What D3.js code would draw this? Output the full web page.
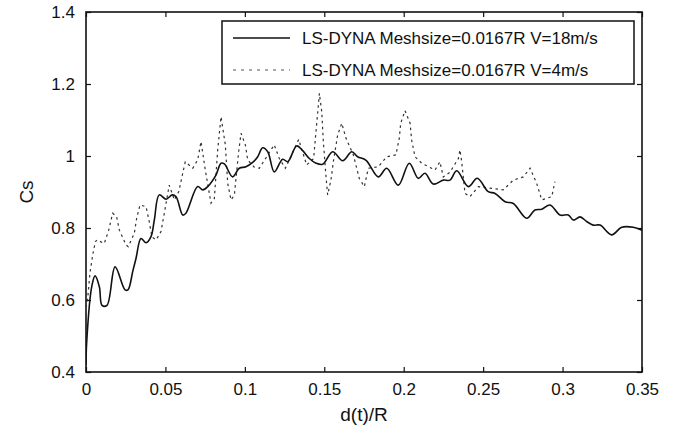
<!DOCTYPE html>
<html>
<head>
<meta charset="utf-8">
<script src="https://cdn.jsdelivr.net/npm/d3@7"></script>
<style>
body { margin: 0; background: #fff; }
text { font-family: "Liberation Sans", Arial, sans-serif; fill: #111; }
</style>
</head>
<body>
<svg id="chart" width="675" height="428"></svg>
<script>
// V=18m/s (trait plein)
var d18 = [0, 0.0004, 0.0036, 0.0057, 0.0084, 0.0101, 0.0132, 0.0183, 0.0246, 0.0264, 0.0296, 0.0315, 0.0346, 0.0378, 0.0409, 0.0430, 0.0461, 0.0504, 0.0542, 0.0567, 0.0609, 0.0629, 0.0703, 0.0735, 0.0766, 0.0818, 0.0850, 0.0871, 0.0923, 0.0965, 0.1007, 0.1049, 0.1081, 0.1112, 0.1144, 0.1185, 0.1238, 0.1270, 0.1326, 0.1364, 0.1406, 0.1448, 0.1490, 0.1553, 0.1616, 0.1673, 0.1710, 0.1763, 0.1840, 0.1893, 0.1966, 0.2035, 0.2092, 0.2134, 0.2186, 0.2249, 0.2291, 0.2334, 0.2407, 0.2463, 0.2532, 0.2575, 0.2638, 0.2690, 0.2774, 0.2826, 0.2869, 0.2921, 0.2984, 0.3036, 0.3068, 0.3110, 0.3152, 0.3193, 0.3236, 0.3309, 0.3372, 0.3445, 0.35];
var cs18 = [0.42, 0.48, 0.637, 0.667, 0.637, 0.585, 0.585, 0.692, 0.628, 0.628, 0.683, 0.716, 0.771, 0.759, 0.776, 0.822, 0.892, 0.880, 0.892, 0.887, 0.836, 0.841, 0.915, 0.906, 0.915, 0.947, 0.980, 0.978, 0.942, 0.966, 0.970, 0.982, 0.998, 1.023, 1.012, 0.956, 0.991, 0.984, 1.028, 1.015, 0.993, 0.980, 0.977, 1.012, 0.987, 1.012, 0.998, 0.988, 0.942, 0.966, 0.919, 0.980, 0.938, 0.952, 0.922, 0.933, 0.933, 0.959, 0.915, 0.938, 0.901, 0.896, 0.873, 0.868, 0.827, 0.850, 0.852, 0.864, 0.836, 0.836, 0.822, 0.831, 0.818, 0.808, 0.808, 0.781, 0.802, 0.802, 0.794];

// V=4m/s (pointillés)
var d4 = [0, 0.0008, 0.0025, 0.0042, 0.0059, 0.0069, 0.0115, 0.0143, 0.0168, 0.0193, 0.0210, 0.0252, 0.0266, 0.0304, 0.0319, 0.0340, 0.0378, 0.0398, 0.0415, 0.0441, 0.0472, 0.0493, 0.0524, 0.0556, 0.0584, 0.0604, 0.0625, 0.0672, 0.0703, 0.0724, 0.0751, 0.0787, 0.0808, 0.0829, 0.0850, 0.0877, 0.0892, 0.0913, 0.0934, 0.0961, 0.0976, 0.1003, 0.1018, 0.1059, 0.1091, 0.1185, 0.1217, 0.1255, 0.1339, 0.1389, 0.1433, 0.1443, 0.1459, 0.1469, 0.1484, 0.1494, 0.1511, 0.1521, 0.1542, 0.1557, 0.1584, 0.1610, 0.1637, 0.1683, 0.1720, 0.1752, 0.1777, 0.1840, 0.1893, 0.1951, 0.1972, 0.1981, 0.2008, 0.2040, 0.2050, 0.2071, 0.2113, 0.2197, 0.2228, 0.2249, 0.2291, 0.2344, 0.2354, 0.2365, 0.2386, 0.2417, 0.2470, 0.2554, 0.2627, 0.2690, 0.2753, 0.2795, 0.2837, 0.2869, 0.2932, 0.2952];
var cs4 = [0.58, 0.592, 0.675, 0.725, 0.762, 0.767, 0.757, 0.794, 0.841, 0.831, 0.794, 0.753, 0.748, 0.785, 0.827, 0.864, 0.859, 0.818, 0.775, 0.767, 0.790, 0.841, 0.919, 0.878, 0.901, 0.942, 0.984, 0.966, 0.989, 1.040, 0.961, 0.869, 0.882, 1.017, 1.109, 1.031, 0.924, 0.878, 0.892, 1.012, 1.063, 1.031, 0.989, 0.969, 0.966, 1.031, 0.993, 0.966, 1.046, 0.975, 0.993, 1.044, 1.123, 1.174, 1.123, 1.040, 0.942, 0.892, 0.933, 0.984, 1.058, 1.091, 1.049, 1.003, 0.938, 0.915, 0.966, 0.970, 0.998, 1.003, 1.049, 1.091, 1.126, 1.091, 1.044, 0.998, 0.980, 0.961, 0.984, 0.942, 0.955, 0.993, 1.017, 0.984, 0.896, 0.887, 0.915, 0.910, 0.906, 0.933, 0.942, 0.966, 0.924, 0.878, 0.887, 0.929];

var xTicks = [0, 0.05, 0.1, 0.15, 0.2, 0.25, 0.3, 0.35];
var yTicks = [0.4, 0.6, 0.8, 1, 1.2, 1.4];
var legendLabels = ["LS-DYNA Meshsize=0.0167R V=18m/s", "LS-DYNA Meshsize=0.0167R V=4m/s"];

// cadre du graphe
var pL = 86, pR = 642, pT = 12, pB = 372;

var svg = d3.select("#chart");

var x = d3.scaleLinear().domain([0, 0.35]).range([pL, pR]);
var y = d3.scaleLinear().domain([0.4, 1.4]).range([pB, pT]);

var fmt = function (d) { return d3.format("")(d); };

// axes, ticks vers l'intérieur sur les 4 côtés
function styleAxis(g) {
	g.select(".domain").remove();
	g.selectAll(".tick line").attr("stroke", "#111").attr("stroke-width", 1.2);
	g.selectAll(".tick text").attr("font-size", 17).attr("fill", "#111")
		.attr("font-family", "Liberation Sans, Arial, sans-serif");
}

svg.append("g").attr("transform", "translate(0," + pB + ")")
	.call(d3.axisBottom(x).tickValues(xTicks).tickFormat(fmt).tickSizeInner(-5).tickSizeOuter(0).tickPadding(11))
	.call(styleAxis);
svg.append("g").attr("transform", "translate(0," + pT + ")")
	.call(d3.axisTop(x).tickValues(xTicks).tickFormat("").tickSizeInner(-5).tickSizeOuter(0))
	.call(styleAxis);
svg.append("g").attr("transform", "translate(" + pL + ",0)")
	.call(d3.axisLeft(y).tickValues(yTicks).tickFormat(fmt).tickSizeInner(-5).tickSizeOuter(0).tickPadding(11))
	.call(styleAxis);
svg.append("g").attr("transform", "translate(" + pR + ",0)")
	.call(d3.axisRight(y).tickValues(yTicks).tickFormat("").tickSizeInner(-5).tickSizeOuter(0))
	.call(styleAxis);

svg.append("rect")
	.attr("x", pL).attr("y", pT)
	.attr("width", pR - pL).attr("height", pB - pT)
	.attr("fill", "none").attr("stroke", "#111").attr("stroke-width", 1.6);

// courbes
var line = d3.line()
	.x(function (d) { return x(d[0]); })
	.y(function (d) { return y(d[1]); });
var smooth = d3.line()
	.curve(d3.curveCatmullRom.alpha(0.5))
	.x(function (d) { return x(d[0]); })
	.y(function (d) { return y(d[1]); });

svg.append("clipPath").attr("id", "clip")
	.append("rect").attr("x", pL).attr("y", pT).attr("width", pR - pL).attr("height", pB - pT);

svg.append("path")
	.datum(d3.zip(d4, cs4))
	.attr("clip-path", "url(#clip)")
	.attr("d", line)
	.attr("fill", "none")
	.attr("stroke", "#333")
	.attr("stroke-width", 1.2)
	.attr("stroke-dasharray", "2.5,3.5");

svg.append("path")
	.datum(d3.zip(d18, cs18))
	.attr("clip-path", "url(#clip)")
	.attr("d", smooth)
	.attr("fill", "none")
	.attr("stroke", "#111")
	.attr("stroke-width", 1.6)
	.attr("stroke-linejoin", "round");

// légende
var lg = svg.append("g");
lg.append("rect")
	.attr("x", 222).attr("y", 21).attr("width", 412).attr("height", 63)
	.attr("fill", "#fff").attr("stroke", "#111").attr("stroke-width", 1.5);

legendLabels.forEach(function (lab, i) {
	var yy = 38 + i * 32;
	lg.append("line")
		.attr("x1", 233).attr("x2", 290).attr("y1", yy).attr("y2", yy)
		.attr("stroke", i == 0 ? "#111" : "#555")
		.attr("stroke-width", i == 0 ? 1.6 : 1.1)
		.attr("stroke-dasharray", i == 0 ? null : "3,5");
	lg.append("text")
		.attr("x", 302).attr("y", yy + 6)
		.attr("font-size", 17)
		.text(lab);
});

// titres des axes
svg.append("text")
	.attr("x", (pL + pR) / 2).attr("y", 421)
	.attr("text-anchor", "middle").attr("font-size", 19)
	.text("d(t)/R");

svg.append("text")
	.attr("transform", "translate(33," + (pT + pB) / 2 + ") rotate(-90)")
	.attr("text-anchor", "middle").attr("font-size", 19)
	.text("Cs");
</script>
</body>
</html>
